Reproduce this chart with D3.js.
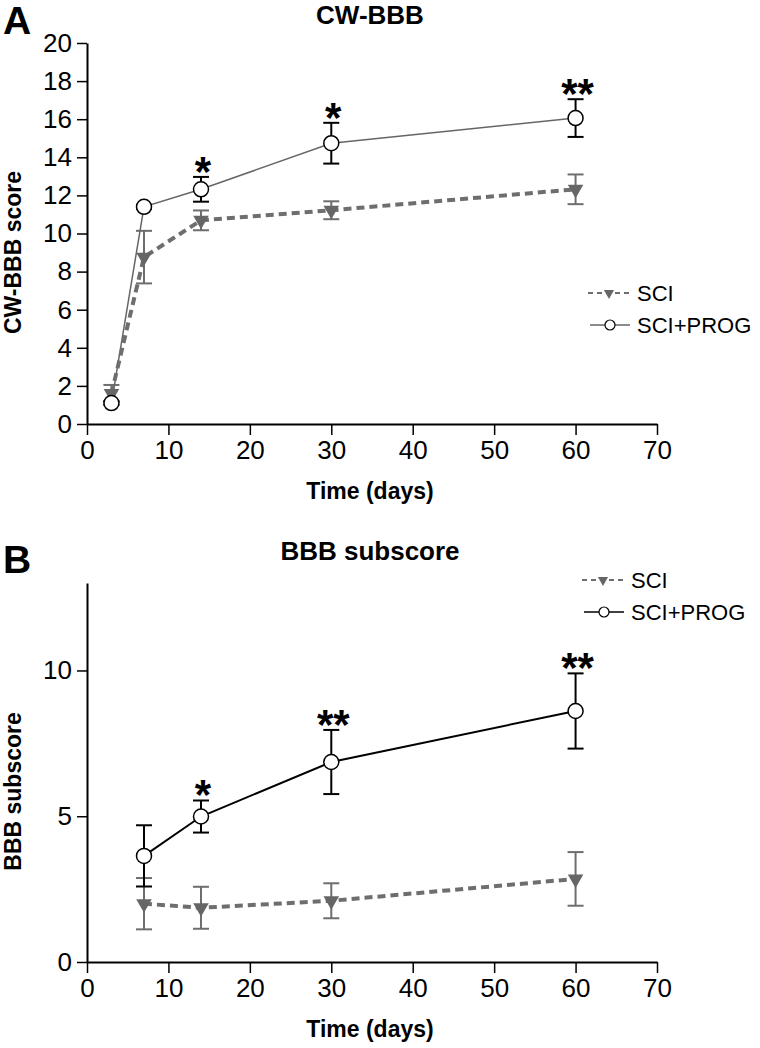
<!DOCTYPE html>
<html>
<head>
<meta charset="utf-8">
<script src="https://cdn.jsdelivr.net/npm/d3@7"></script>
<style>
    body { margin: 0; background: #fff; }
    text { font-family: "Liberation Sans", Arial, sans-serif; }
    .axis path, .axis line { stroke: #000; }
    .axis text { font-size: 26px; fill: #000; }
</style>
</head>
<body>
<script>
// days for each panel
var daysA = [3, 7, 14, 30, 60];
var daysB = [7, 14, 30, 60];

// panel A: CW-BBB score (mean and error)
var sciA = [1.6, 8.76, 10.69, 11.22, 12.32];
var sciErrA = [0.45, 1.38, 0.52, 0.47, 0.78];
var progA = [1.1, 11.4, 12.32, 14.74, 16.06];
var progErrA = [0.1, 0.1, 0.65, 1.07, 0.99];
var starsA = ["", "", "*", "*", "**"];

// panel B: BBB subscore (mean and error)
var sciB = [2.0, 1.86, 2.1, 2.85];
var sciErrB = [0.88, 0.72, 0.6, 0.92];
var progB = [3.64, 4.99, 6.86, 8.61];
var progErrB = [1.05, 0.55, 1.1, 1.29];
var starsB = ["", "*", "**", "**"];

var xTicks = [0, 10, 20, 30, 40, 50, 60, 70];
var yTicksA = [0, 2, 4, 6, 8, 10, 12, 14, 16, 18, 20];
var yTicksB = [0, 5, 10];
var seriesNames = ["SCI", "SCI+PROG"];

var sciColor = "#6e6e6e";

window.onload = function(){
    var svg = d3.select("body")
        .append("svg")
        .attr("width", 760)
        .attr("height", 1048);

    drawPanel(svg, {
        letter: "A", letterY: 34,
        title: "CW-BBB", titleY: 24,
        yLabel: "CW-BBB score",
        yTop: 43, yBottom: 424, yMax: 20, yTicks: yTicksA,
        days: daysA, sci: sciA, sciErr: sciErrA, prog: progA, progErr: progErrA, stars: starsA,
        progLine: "#666", progLineWidth: 1.5,
        legendX: 588, legendY: 293
    });

    drawPanel(svg, {
        letter: "B", letterY: 573,
        title: "BBB subscore", titleY: 560,
        yLabel: "BBB subscore",
        yTop: 583, yBottom: 962, yMax: 13, yTicks: yTicksB,
        days: daysB, sci: sciB, sciErr: sciErrB, prog: progB, progErr: progErrB, stars: starsB,
        progLine: "#000", progLineWidth: 2,
        legendX: 582, legendY: 580
    });
};

function drawPanel(svg, p){
    var x = d3.scaleLinear()
        .domain([0, 70])
        .range([87, 657]);

    var y = d3.scaleLinear()
        .domain([0, p.yMax])
        .range([p.yBottom, p.yTop]);

    //axes
    var xAxis = d3.axisBottom(x)
        .tickValues(xTicks)
        .tickSize(11)
        .tickSizeOuter(0)
        .tickPadding(6);

    var yAxis = d3.axisLeft(y)
        .tickValues(p.yTicks)
        .tickSize(10)
        .tickSizeOuter(0)
        .tickPadding(5);

    svg.append("g")
        .attr("class", "axis")
        .attr("transform", "translate(0," + p.yBottom + ")")
        .call(xAxis)
        .call(function(g){
            g.select(".domain").attr("stroke-width", 2);
            g.selectAll(".tick line").attr("stroke-width", 1.5);
        });

    svg.append("g")
        .attr("class", "axis")
        .attr("transform", "translate(87,0)")
        .call(yAxis)
        .call(function(g){
            g.select(".domain").attr("stroke-width", 2);
            g.selectAll(".tick line").attr("stroke-width", 1.5);
        });

    //panel letter and title
    svg.append("text")
        .attr("x", 3)
        .attr("y", p.letterY)
        .style("font-size", "39px")
        .style("font-weight", "bold")
        .text(p.letter);

    svg.append("text")
        .attr("x", 370)
        .attr("y", p.titleY)
        .attr("text-anchor", "middle")
        .style("font-size", "26px")
        .style("font-weight", "bold")
        .text(p.title);

    //axis titles
    svg.append("text")
        .attr("x", 370)
        .attr("y", p.yBottom + 75)
        .attr("text-anchor", "middle")
        .style("font-size", "23px")
        .style("font-weight", "bold")
        .text("Time (days)");

    svg.append("text")
        .attr("transform", "translate(21," + ((p.yTop + p.yBottom) / 2 + 19) + ") rotate(-90)")
        .attr("text-anchor", "middle")
        .style("font-size", "23px")
        .style("font-weight", "bold")
        .text(p.yLabel);

    var capW = 8;   //half width of error bar caps

    //SCI error bars (gray)
    var sciBars = svg.append("g")
        .attr("stroke", sciColor)
        .attr("stroke-width", 2);
    p.days.forEach(function(d, i){
        var top = y(p.sci[i] + p.sciErr[i]);
        var bot = y(p.sci[i] - p.sciErr[i]);
        sciBars.append("line").attr("x1", x(d)).attr("x2", x(d)).attr("y1", top).attr("y2", bot);
        sciBars.append("line").attr("x1", x(d) - capW).attr("x2", x(d) + capW).attr("y1", top).attr("y2", top);
        sciBars.append("line").attr("x1", x(d) - capW).attr("x2", x(d) + capW).attr("y1", bot).attr("y2", bot);
    });

    //SCI+PROG error bars (black)
    var progBars = svg.append("g")
        .attr("stroke", "#000")
        .attr("stroke-width", 2);
    p.days.forEach(function(d, i){
        var top = y(p.prog[i] + p.progErr[i]);
        var bot = y(p.prog[i] - p.progErr[i]);
        progBars.append("line").attr("x1", x(d)).attr("x2", x(d)).attr("y1", top).attr("y2", bot);
        progBars.append("line").attr("x1", x(d) - capW).attr("x2", x(d) + capW).attr("y1", top).attr("y2", top);
        progBars.append("line").attr("x1", x(d) - capW).attr("x2", x(d) + capW).attr("y1", bot).attr("y2", bot);
    });

    //lines
    var line = d3.line()
        .x(function(d){ return x(d[0]); })
        .y(function(d){ return y(d[1]); });

    svg.append("path")
        .datum(d3.zip(p.days, p.prog))
        .attr("d", line)
        .attr("fill", "none")
        .attr("stroke", p.progLine)
        .attr("stroke-width", p.progLineWidth);

    svg.append("path")
        .datum(d3.zip(p.days, p.sci))
        .attr("d", line)
        .attr("fill", "none")
        .attr("stroke", sciColor)
        .attr("stroke-width", 4)
        .attr("stroke-dasharray", "8,5");

    //markers
    var tri = d3.symbol().type(d3.symbolTriangle).size(105);
    svg.selectAll(null)
        .data(d3.zip(p.days, p.sci))
        .enter()
        .append("path")
        .attr("d", tri)
        .attr("transform", function(d){
            return "translate(" + x(d[0]) + "," + y(d[1]) + ") rotate(180)";
        })
        .attr("fill", "#666");

    svg.selectAll(null)
        .data(d3.zip(p.days, p.prog))
        .enter()
        .append("circle")
        .attr("cx", function(d){ return x(d[0]); })
        .attr("cy", function(d){ return y(d[1]); })
        .attr("r", 7.5)
        .attr("fill", "#fff")
        .attr("stroke", "#000")
        .attr("stroke-width", 1.5);

    //significance stars above the SCI+PROG error bars
    svg.selectAll(null)
        .data(p.days)
        .enter()
        .append("text")
        .attr("x", function(d){ return x(d) + 2; })
        .attr("y", function(d, i){ return y(p.prog[i] + p.progErr[i]) - 15 + 24; })
        .attr("text-anchor", "middle")
        .style("font-size", "42px")
        .style("font-weight", "bold")
        .text(function(d, i){ return p.stars[i]; });

    //legend
    var lx = p.legendX, ly = p.legendY;
    var legend = svg.append("g");

    legend.append("line")
        .attr("x1", lx).attr("x2", lx + 43)
        .attr("y1", ly).attr("y2", ly)
        .attr("stroke", sciColor)
        .attr("stroke-width", 2)
        .attr("stroke-dasharray", "5,4");
    legend.append("path")
        .attr("d", d3.symbol().type(d3.symbolTriangle).size(45))
        .attr("transform", "translate(" + (lx + 21) + "," + ly + ") rotate(180)")
        .attr("fill", "#666");

    legend.append("line")
        .attr("x1", lx + 2).attr("x2", lx + 42)
        .attr("y1", ly + 32).attr("y2", ly + 32)
        .attr("stroke", p.progLine)
        .attr("stroke-width", 1.5);
    legend.append("circle")
        .attr("cx", lx + 22)
        .attr("cy", ly + 32)
        .attr("r", 5)
        .attr("fill", "#fff")
        .attr("stroke", "#000")
        .attr("stroke-width", 1.2);

    legend.selectAll("text")
        .data(seriesNames)
        .enter()
        .append("text")
        .attr("x", lx + 49)
        .attr("y", function(d, i){ return ly + 8 + i * 32; })
        .style("font-size", "22px")
        .text(function(d){ return d; });
}
</script>
</body>
</html>
